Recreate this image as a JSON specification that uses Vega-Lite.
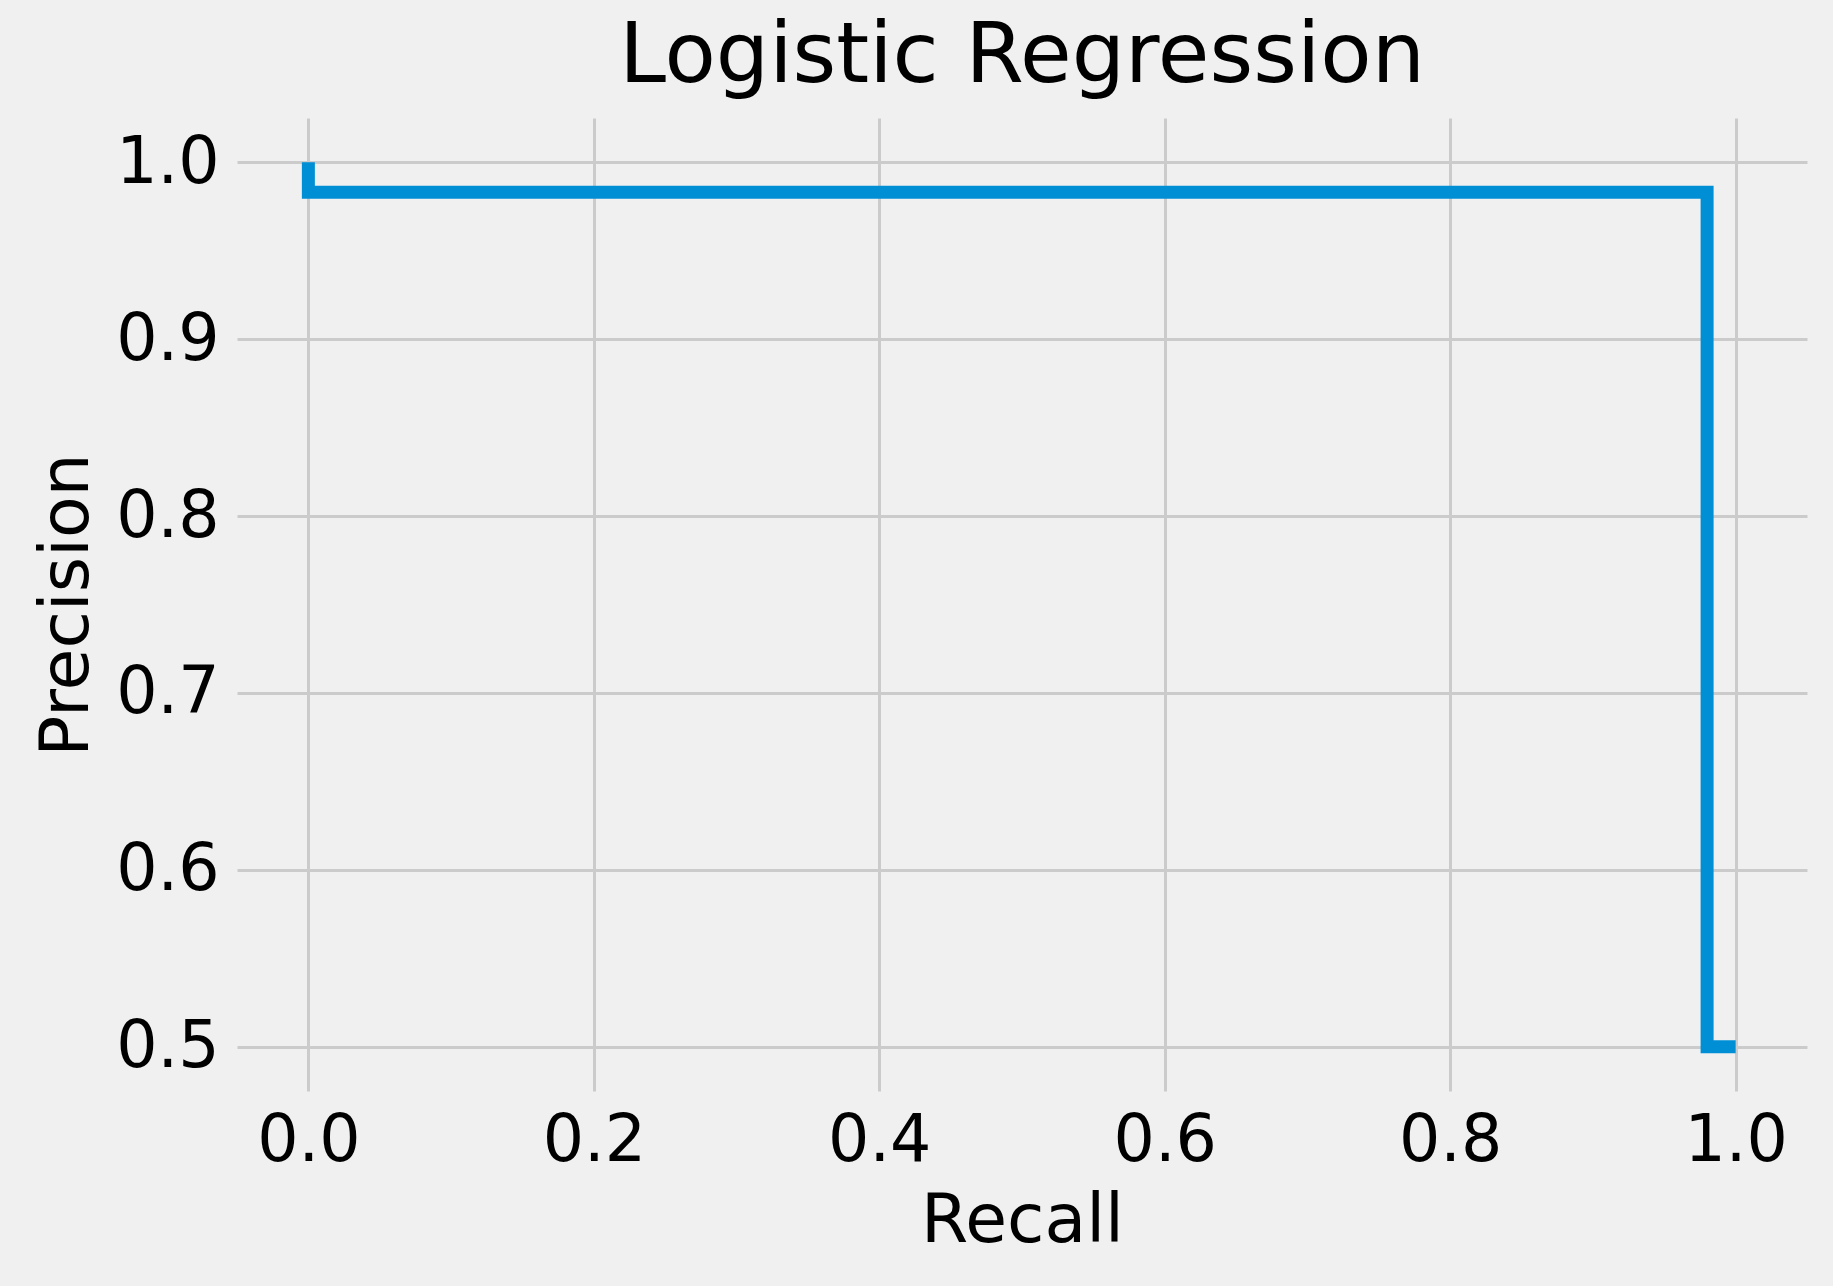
{
  "$schema": "https://vega.github.io/schema/vega-lite/v6.json",
  "width": 1570,
  "height": 973,
  "autosize": {"type": "none"},
  "padding": {"left": 237, "top": 118, "right": 26, "bottom": 195},
  "background": "#f0f0f0",
  "title": {"text": "Logistic Regression", "fontSize": 84, "font": "DejaVu Sans", "fontWeight": "normal", "color": "#000000", "offset": 18},
  "config": {
    "view": {"stroke": null},
    "axis": {"labelFont": "DejaVu Sans", "titleFont": "DejaVu Sans", "labelFontSize": 65, "titleFontSize": 68, "titleFontWeight": "normal", "labelColor": "#000000", "titleColor": "#000000", "gridColor": "#cbcbcb", "gridWidth": 3, "domain": false, "ticks": false}
  },
  "data": {"values": [
    {"order": 1, "recall": 0.0, "precision": 1.0},
    {"order": 2, "recall": 0.0, "precision": 0.983},
    {"order": 3, "recall": 0.98, "precision": 0.983},
    {"order": 4, "recall": 0.98, "precision": 0.5},
    {"order": 5, "recall": 1.0, "precision": 0.5}
  ]},
  "mark": {"type": "line", "color": "#008fd5", "strokeWidth": 13, "strokeCap": "butt", "strokeJoin": "miter", "clip": false},
  "encoding": {
    "order": {"field": "order", "type": "quantitative"},
    "x": {"field": "recall", "type": "quantitative", "title": "Recall", "scale": {"domain": [-0.05, 1.05], "nice": false, "zero": false},
      "axis": {"values": [0, 0.2, 0.4, 0.6, 0.8, 1.0], "format": ".1f", "labelPadding": 18, "titlePadding": 14}},
    "y": {"field": "precision", "type": "quantitative", "title": "Precision", "scale": {"domain": [0.475, 1.025], "nice": false, "zero": false},
      "axis": {"values": [0.5, 0.6, 0.7, 0.8, 0.9, 1.0], "format": ".1f", "labelPadding": 18, "titlePadding": 14}}
  }
}
